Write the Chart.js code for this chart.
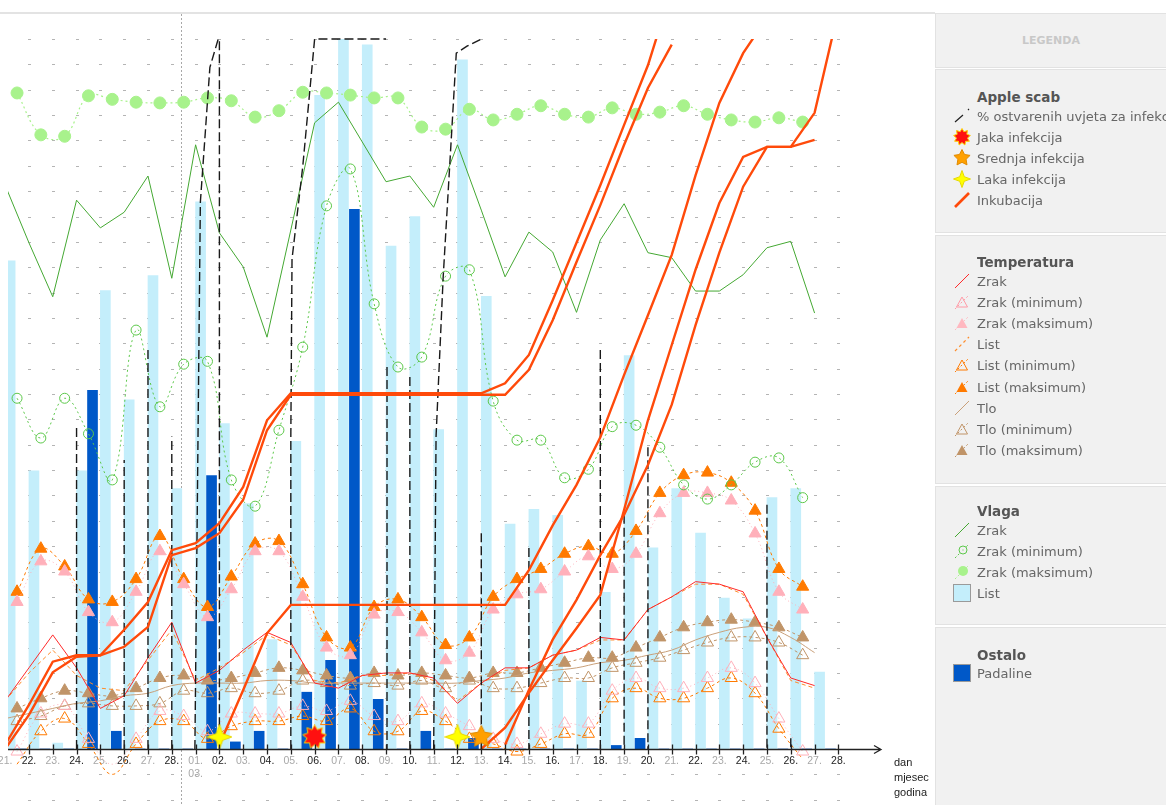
<!DOCTYPE html>
<html>
<head>
<meta charset="utf-8">
<script src="https://cdn.jsdelivr.net/npm/chart.js@4.4.1/dist/chart.umd.min.js"></script>
<style>
  body { margin: 0; background: #fff; font-family: "DejaVu Sans", sans-serif; }
  #wrap { position: relative; width: 1166px; height: 805px; overflow: hidden; }
  #topLine { position: absolute; left: 0; top: 12px; width: 935px; height: 2px; background: #e3e3e3; }
  #chartBox { position: absolute; left: 0; top: 14px; width: 930px; height: 791px; }
  #axisNote { position: absolute; left: 894px; top: 755px; font-size: 11px; line-height: 15px; color: #222; font-family: "Liberation Sans", sans-serif; }
  .box { position: absolute; left: 935px; width: 240px; background: #f1f1f1; border: 1px solid #e2e2e2; box-sizing: border-box; overflow: hidden; white-space: nowrap; }
  .head { text-align: center; color: #c8c8c8; font-size: 11px; font-weight: bold; line-height: 53px; padding-right: 8px; }
  .title { position: absolute; left: 41px; font-size: 13.5px; font-weight: bold; color: #555; line-height: 18px; }
  .row { position: absolute; left: 17px; height: 20px; display: flex; align-items: center; font-size: 13px; color: #666; }
  .row canvas { margin-right: 6px; }
</style>
</head>
<body>
<div id="wrap">
  <div id="topLine"></div>
  <div id="chartBox"><canvas id="chart" width="930" height="791"></canvas></div>
  <div id="axisNote">dan<br>mjesec<br>godina</div>

  <div class="box head" style="top:13px;height:55px;">LEGENDA</div>

  <div class="box" style="top:69px;height:164px;">
    <div class="title" style="top:18px">Apple scab</div>
    <div class="row" style="top:36px"><canvas width="18" height="18" data-icon="skab"></canvas>% ostvarenih uvjeta za infekciju</div>
    <div class="row" style="top:57px"><canvas width="18" height="18" data-icon="jaka"></canvas>Jaka infekcija</div>
    <div class="row" style="top:78px"><canvas width="18" height="18" data-icon="srednja"></canvas>Srednja infekcija</div>
    <div class="row" style="top:99px"><canvas width="18" height="18" data-icon="laka"></canvas>Laka infekcija</div>
    <div class="row" style="top:120px"><canvas width="18" height="18" data-icon="ink"></canvas>Inkubacija</div>
  </div>

  <div class="box" style="top:235px;height:249px;">
    <div class="title" style="top:17px">Temperatura</div>
    <div class="row" style="top:35px"><canvas width="18" height="18" data-icon="linija:#ff2a2a"></canvas>Zrak</div>
    <div class="row" style="top:56px"><canvas width="18" height="18" data-icon="trokutPrazan:#ff9aa6"></canvas>Zrak (minimum)</div>
    <div class="row" style="top:77px"><canvas width="18" height="18" data-icon="trokutPun:#ffb8c0"></canvas>Zrak (maksimum)</div>
    <div class="row" style="top:98px"><canvas width="18" height="18" data-icon="crtkano:#ff8c2a"></canvas>List</div>
    <div class="row" style="top:119px"><canvas width="18" height="18" data-icon="trokutPrazan:#ff7a00"></canvas>List (minimum)</div>
    <div class="row" style="top:141px"><canvas width="18" height="18" data-icon="trokutPun:#ff7a00"></canvas>List (maksimum)</div>
    <div class="row" style="top:162px"><canvas width="18" height="18" data-icon="linija:#c9a07a"></canvas>Tlo</div>
    <div class="row" style="top:183px"><canvas width="18" height="18" data-icon="trokutPrazan:#c09468"></canvas>Tlo (minimum)</div>
    <div class="row" style="top:204px"><canvas width="18" height="18" data-icon="trokutPun:#c09468"></canvas>Tlo (maksimum)</div>
  </div>

  <div class="box" style="top:486px;height:139px;">
    <div class="title" style="top:15px">Vlaga</div>
    <div class="row" style="top:33px"><canvas width="18" height="18" data-icon="linija:#44a832"></canvas>Zrak</div>
    <div class="row" style="top:54px"><canvas width="18" height="18" data-icon="krugPrazan:#5cc84a"></canvas>Zrak (minimum)</div>
    <div class="row" style="top:75px"><canvas width="18" height="18" data-icon="krugPun:#a8f28c"></canvas>Zrak (maksimum)</div>
    <div class="row" style="top:96px"><canvas width="18" height="18" data-icon="kvadrat:#c4eefb"></canvas>List</div>
  </div>

  <div class="box" style="top:627px;height:180px;">
    <div class="title" style="top:18px">Ostalo</div>
    <div class="row" style="top:35px"><canvas width="18" height="18" data-icon="kvadrat:#0058c8"></canvas>Padaline</div>
  </div>
</div>

<script>
// days from 21.02. to 28.03.
const days = ['21.', '22.', '23.', '24.', '25.', '26.', '27.', '28.', '01.', '02.', '03.', '04.', '05.', '06.', '07.', '08.', '09.', '10.', '11.', '12.', '13.', '14.', '15.', '16.', '17.', '18.', '19.', '20.', '21.', '22.', '23.', '24.', '25.', '26.', '27.', '28.'];
const firstOfMonth = 8;
const monthLabel = '03.';
const todayMark = 7.4;

// vlaga (%), daily values at day start, min / max at midday
const humidityAir = [79.4, 71.3, 63.7, 77.3, 73.4, 75.6, 80.7, 66.3, 85.1, 72.7, 67.9, 58.0, 73.1, 88.2, 91.1, 85.5, 79.9, 80.7, 76.3, 85.1, 75.9, 66.5, 72.8, 70.0, 61.5, 71.7, 76.8, 69.9, 69.2, 64.5, 64.5, 66.8, 70.6, 71.5, 61.4];
const humidityMax = [92.4, 86.5, 86.3, 92.0, 91.5, 91.1, 91.0, 91.1, 91.7, 91.3, 89.0, 89.9, 92.5, 92.4, 92.1, 91.7, 91.7, 87.6, 87.3, 90.1, 88.6, 89.4, 90.6, 89.4, 89.0, 90.3, 89.4, 89.7, 90.6, 89.4, 88.6, 88.3, 88.9, 88.3];
const humidityMin = [49.4, 43.8, 49.4, 44.4, 37.9, 59.0, 48.2, 54.2, 54.6, 37.9, 34.2, 44.9, 56.6, 76.5, 81.7, 62.7, 53.8, 55.2, 66.6, 67.5, 49.0, 43.5, 43.5, 38.2, 39.4, 45.4, 45.6, 42.5, 37.2, 35.2, 37.2, 40.4, 41.0, 35.4];

// vlaženje lista (h) and padaline (mm) per day
const leafWetness = [16.5, 9.4, 0.2, 9.4, 15.5, 11.8, 16.0, 8.8, 18.5, 11.0, 8.3, 3.7, 10.4, 22.1, 24.0, 23.8, 17.0, 18.0, 10.8, 23.3, 15.3, 7.6, 8.1, 7.9, 2.3, 5.3, 13.3, 6.8, 8.8, 7.3, 5.1, 4.4, 8.5, 8.8, 2.6];
const rain = [0, 0, 0, 10.1, 0.5, 0, 0, 0, 7.7, 0.2, 0.5, 0, 1.6, 2.5, 15.2, 1.4, 0, 0.5, 0, 0.3, 0, 0, 0, 0, 0, 0.1, 0.3, 0, 0, 0, 0, 0, 0, 0, 0];

// temperatura (°C)
const tempAir = [-0.1, 1.2, 2.5, 1.2, -0.4, 0.1, 1.6, 3.0, 0.6, 1.1, 1.9, 2.6, 2.2, 0.6, 0.4, 0.9, 1.0, 1.0, 0.8, -0.2, 0.6, 1.2, 1.2, 1.7, 1.9, 2.4, 2.3, 3.5, 4.0, 4.6, 4.5, 4.2, 2.4, 0.8, 0.5];
const tempAirMax = [3.8, 5.4, 5.0, 3.4, 3.0, 4.2, 5.8, 4.5, 3.2, 4.3, 5.8, 5.8, 4.0, 2.0, 1.7, 3.3, 3.4, 2.6, 1.5, 1.8, 3.5, 4.1, 4.3, 5.0, 5.6, 5.1, 5.7, 7.3, 8.1, 8.1, 7.8, 6.5, 4.2, 3.5];
const tempAirMin = [-2.1, -0.6, -0.3, -1.6, -2.6, -1.6, -0.5, -0.7, -1.3, -0.6, -0.6, -0.6, -0.3, -0.5, -0.1, -0.7, -0.9, -0.2, -0.6, -1.1, -1.6, -1.8, -1.4, -1.0, -1.0, 0.3, 0.8, 0.4, 0.4, 0.8, 1.2, 0.6, -0.8, -2.1];
const tempLeaf = [-0.1, 1.0, 1.9, 0.9, 0.4, 0.3, 1.5, 2.7, 0.7, 1.2, 1.8, 2.5, 2.1, 0.7, 0.6, 0.9, 0.9, 1.0, 0.7, -0.1, 0.6, 1.1, 1.2, 1.7, 1.9, 2.3, 2.3, 3.5, 4.0, 4.5, 4.5, 4.1, 2.4, 0.7, 0.4];
const tempLeafMax = [4.2, 5.9, 5.2, 3.9, 3.8, 4.7, 6.4, 4.7, 3.6, 4.8, 6.1, 6.2, 4.5, 2.4, 2.0, 3.6, 3.9, 3.2, 2.1, 2.4, 4.0, 4.7, 5.1, 5.7, 6.0, 5.7, 6.6, 8.1, 8.8, 8.9, 8.5, 7.4, 5.1, 4.4];
const tempLeafMin = [-2.6, -1.3, -0.8, -1.8, -3.0, -1.8, -0.9, -0.9, -1.6, -1.1, -0.9, -0.9, -0.7, -0.9, -0.4, -1.3, -1.3, -0.5, -0.9, -1.6, -1.8, -2.1, -1.8, -1.4, -1.4, 0.0, 0.4, 0.0, 0.0, 0.4, 0.8, 0.2, -1.2, -2.4];
const tempSoil = [-0.8, -0.6, -0.4, -0.2, -0.1, 0.1, 0.2, 0.5, 0.6, 0.6, 0.6, 0.7, 0.7, 0.6, 0.6, 0.6, 0.6, 0.6, 0.6, 0.6, 0.7, 0.8, 1.0, 1.1, 1.2, 1.4, 1.5, 1.7, 1.9, 2.3, 2.6, 2.8, 2.8, 2.4, 1.8];
const tempSoilMax = [-0.4, 0.0, 0.3, 0.2, 0.1, 0.4, 0.8, 0.9, 0.7, 0.8, 1.0, 1.2, 1.1, 0.9, 0.8, 1.0, 0.9, 1.0, 0.9, 0.8, 1.0, 1.0, 1.2, 1.4, 1.6, 1.6, 2.0, 2.4, 2.8, 3.0, 3.1, 3.0, 2.8, 2.4];
const tempSoilMin = [-0.9, -0.7, -0.3, -0.2, -0.3, -0.3, -0.2, 0.3, 0.2, 0.4, 0.2, 0.3, 0.7, 0.6, 0.5, 0.6, 0.5, 0.7, 0.4, 0.7, 0.4, 0.4, 0.6, 0.8, 0.8, 1.2, 1.4, 1.6, 1.9, 2.2, 2.4, 2.4, 2.2, 1.7];

// apple scab: % of infection conditions met (time in days from 21.02.)
const scabTime = [3, 3, 3, 5, 5, 5, 6, 6, 6, 7, 7, 7, 7.97, 8.2, 8.6, 8.95, 9, 9, 9, 12, 12, 12.05, 12.5, 13, 16, 16, 16.04, 16.04, 16.04, 17, 17, 17, 18, 18.1, 18.4, 18.95, 19.4, 20, 20, 20, 20, 20, 22, 22, 22, 25, 25, 25, 26, 26, 26, 27, 27, 27, 32, 32, 32, 33, 33];
const scabPercent = [0, 45.2, null, 0, 40.7, null, 0, 56.2, null, 0, 44, null, 0, 77, 96, 100, 100, 0, null, 0, 44, 69, 82, 100, 100, null, 53.8, 0, null, 52.4, 0, null, 0, 44, 66.5, 98, 99, 100, null, 30.4, 0, null, 28.3, 0, null, 56.2, 0, null, 33, 0, null, 42.5, 0, null, 34.4, 0, null, 1.5, 0];

// infections (day index)
const severeDays = [13];
const mediumDays = [20];
const lightDays = [9, 19];
const markerLevel = 1.7;

// incubation progress (%), first value at the given day index
const incubation1Start = 0;
const incubation1 = [0.6, 6.2, 12.3, 13.2, 13.2, 16.8, 20.7, 28.0, 29.0, 31.8, 36.9, 46.3, 50.1, 50.1, 50.1, 50.1, 50.1, 50.1, 50.1, 50.1, 50.1, 51.5, 55.5, 63.2, 71.3, 79.4, 87.9, 96.3, 107];
const incubation2Start = 0;
const incubation2 = [0, 4.8, 10.8, 13.0, 13.2, 14.4, 17.2, 27.3, 28.3, 30.4, 35.1, 44.9, 49.9, 49.9, 49.9, 49.9, 49.9, 49.9, 49.9, 49.9, 49.9, 49.9, 53.4, 60.4, 68.6, 76.6, 85.1, 93.1, 99.2];
const incubation3Start = 9;
const incubation3 = [0.6, 8.3, 16.3, 20.3, 20.3, 20.3, 20.3, 20.3, 20.3, 20.3, 20.3, 20.3, 20.3, 25.2, 31.5, 37.2, 43.9, 52.7, 61.1, 69.6, 80.8, 91.0, 98.0, 103];
const incubation4Start = 20;
const incubation4 = [0, 3.0, 7.9, 12.5, 17.0, 21.7, 33.7, 46.3, 56.9, 67.5, 76.9, 83.4, 84.8, 84.8, 89.6, 104];
const incubation5Start = 21;
const incubation5 = [0.6, 8.3, 15.4, 21.0, 27.3, 33.0, 40.0, 48.5, 59.7, 69.9, 79.2, 84.8, 84.8, 85.8];

const COLORS = {
  leafBar: '#c4eefb',
  rainBar: '#0058c8',
  humidity: '#44a832',
  humidityMax: '#a8f28c',
  humidityMin: '#5cc84a',
  air: '#ff2a2a',
  airMarks: '#ffb0ba',
  leaf: '#ff8c2a',
  leafMarks: '#ff7a00',
  soil: '#c9a07a',
  soilMarks: '#c09468',
  scab: '#1a1a1a',
  incubation: '#ff4a0a',
};

const atTick = (values, start = 0) => values.map((v, i) => ({ x: start + i, y: v }));
const atMidday = (values) => values.map((v, i) => ({ x: i + 0.5, y: v }));
const onDays = (list) => list.map((d) => ({ x: d, y: markerLevel }));

function star(g, cx, cy, points, outer, inner, fill, stroke) {
  g.beginPath();
  for (let k = 0; k < points * 2; k++) {
    const r = k % 2 ? inner : outer;
    const a = -Math.PI / 2 + (k * Math.PI) / points;
    g.lineTo(cx + r * Math.cos(a), cy + r * Math.sin(a));
  }
  g.closePath();
  g.fillStyle = fill;
  g.fill();
  if (stroke) {
    g.strokeStyle = stroke;
    g.lineWidth = 1;
    g.stroke();
  }
}

function drawInfection(g, kind, size) {
  const s = size / 2;
  if (kind === 'jaka') star(g, s, s, 9, s - 0.5, s * 0.62, '#ff1010', '#ffd000');
  if (kind === 'srednja') star(g, s, s, 5, s - 0.5, s * 0.48, '#ffa000', '#e08a00');
  if (kind === 'laka') star(g, s, s, 4, s - 0.5, s * 0.36, '#ffff00', '#e6d800');
}

function infectionImage(kind, size) {
  const c = document.createElement('canvas');
  c.width = c.height = size;
  drawInfection(c.getContext('2d'), kind, size);
  return c;
}

function lineDataset(label, data, color, extra) {
  return Object.assign({
    type: 'line',
    label,
    data,
    borderColor: color,
    backgroundColor: color,
    borderWidth: 1,
    pointRadius: 0,
    tension: 0,
    yAxisID: 'yTemp',
    order: 4,
  }, extra);
}

function markDataset(label, values, color, filled, style, extra) {
  return lineDataset(label, atMidday(values), color, Object.assign({
    borderDash: [2, 3],
    tension: 0.4,
    pointStyle: style,
    pointRadius: 6,
    pointBorderWidth: 1,
    pointBorderColor: color,
    pointBackgroundColor: filled ? color : 'rgba(255,255,255,0)',
    clip: false,
    order: 5,
  }, extra));
}

function infectionDataset(label, list, kind, size) {
  return lineDataset(label, onDays(list), '#ff1010', {
    showLine: false,
    pointStyle: infectionImage(kind, size),
    pointRadius: 10,
    yAxisID: 'yPct',
    clip: false,
    order: 1,
  });
}

function incubationDataset(values, start) {
  return lineDataset('Inkubacija', atTick(values, start), COLORS.incubation, {
    borderWidth: 2.4,
    yAxisID: 'yPct',
    order: 2,
  });
}

const background = {
  id: 'background',
  beforeDatasetsDraw(chart) {
    const { ctx, scales: { x, yTemp } } = chart;
    ctx.save();
    ctx.fillStyle = '#b4b4b4';
    for (let t = -4; t <= 26; t++) {
      if (t === -2) continue;
      const py = Math.round(yTemp.getPixelForValue(t));
      for (let i = 1; i < days.length; i++) {
        ctx.fillRect(Math.round(x.getPixelForValue(i)) - 1, py, 3, 1);
      }
    }
    const vx = Math.round(x.getPixelForValue(todayMark)) + 0.5;
    ctx.strokeStyle = '#a8a8a8';
    ctx.lineWidth = 1;
    ctx.setLineDash([2, 2]);
    ctx.beginPath();
    ctx.moveTo(vx, 0);
    ctx.lineTo(vx, chart.height);
    ctx.stroke();
    ctx.restore();
  },
  afterDatasetsDraw(chart) {
    const { ctx, scales: { x }, chartArea } = chart;
    const y = Math.round(chartArea.bottom) + 0.5;
    ctx.save();
    ctx.strokeStyle = '#222';
    ctx.lineWidth = 1.3;
    ctx.beginPath();
    ctx.moveTo(chartArea.left, y);
    ctx.lineTo(chartArea.right, y);
    ctx.moveTo(chartArea.right - 7, y - 4);
    ctx.lineTo(chartArea.right, y);
    ctx.lineTo(chartArea.right - 7, y + 4);
    for (let i = 1; i < days.length; i++) {
      const px = Math.round(x.getPixelForValue(i)) + 0.5;
      ctx.moveTo(px, y - 5);
      ctx.lineTo(px, y + 5);
    }
    ctx.stroke();
    ctx.restore();
  },
};

new Chart(document.getElementById('chart'), {
  type: 'bar',
  data: {
    datasets: [
      {
        label: 'List',
        data: leafWetness.map((v, i) => ({ x: i + 0.21, y: v })),
        backgroundColor: COLORS.leafBar,
        barThickness: 10,
        grouped: false,
        yAxisID: 'yWet',
        order: 20,
      },
      {
        label: 'Padaline',
        data: rain.map((v, i) => ({ x: i + 0.67, y: v })),
        backgroundColor: COLORS.rainBar,
        barThickness: 10,
        grouped: false,
        yAxisID: 'yRain',
        order: 19,
      },
      lineDataset('Vlaga zrak', atTick(humidityAir), COLORS.humidity, { yAxisID: 'yPct' }),
      markDataset('Vlaga zrak (maksimum)', humidityMax, COLORS.humidityMax, true, 'circle', { yAxisID: 'yPct', borderWidth: 1.2 }),
      markDataset('Vlaga zrak (minimum)', humidityMin, COLORS.humidityMin, false, 'circle', { yAxisID: 'yPct', pointRadius: 5 }),
      lineDataset('Temperatura zrak', atTick(tempAir), COLORS.air),
      markDataset('Zrak (maksimum)', tempAirMax, COLORS.airMarks, true, 'triangle', { pointRadius: 7, borderDash: [1, 3] }),
      markDataset('Zrak (minimum)', tempAirMin, COLORS.airMarks, false, 'triangle', { pointRadius: 7, borderDash: [1, 3] }),
      lineDataset('List', atTick(tempLeaf), COLORS.leaf, { borderDash: [4, 3] }),
      markDataset('List (maksimum)', tempLeafMax, COLORS.leafMarks, true, 'triangle', { pointRadius: 7, borderDash: [3, 3] }),
      markDataset('List (minimum)', tempLeafMin, COLORS.leafMarks, false, 'triangle', { pointRadius: 7, borderDash: [3, 3] }),
      lineDataset('Tlo', atTick(tempSoil), COLORS.soil, { tension: 0.4 }),
      markDataset('Tlo (maksimum)', tempSoilMax, COLORS.soilMarks, true, 'triangle', { pointRadius: 7, borderDash: [3, 3] }),
      markDataset('Tlo (minimum)', tempSoilMin, COLORS.soilMarks, false, 'triangle', { pointRadius: 7, borderDash: [3, 3] }),
      lineDataset('% ostvarenih uvjeta za infekciju', scabTime.map((t, i) => ({ x: t, y: scabPercent[i] })), COLORS.scab, {
        borderWidth: 1.4,
        borderDash: [9, 4],
        yAxisID: 'yPct',
        clip: 3,
        order: 3,
      }),
      incubationDataset(incubation1, incubation1Start),
      incubationDataset(incubation2, incubation2Start),
      incubationDataset(incubation3, incubation3Start),
      incubationDataset(incubation4, incubation4Start),
      incubationDataset(incubation5, incubation5Start),
      infectionDataset('Jaka infekcija', severeDays, 'jaka', 25),
      infectionDataset('Srednja infekcija', mediumDays, 'srednja', 24),
      infectionDataset('Laka infekcija', lightDays, 'laka', 26),
    ],
  },
  options: {
    responsive: false,
    devicePixelRatio: 1,
    animation: false,
    events: [],
    layout: { autoPadding: false, padding: { left: 8, right: 49, top: 25, bottom: 26 } },
    plugins: { legend: { display: false }, tooltip: { enabled: false } },
    scales: {
      x: {
        type: 'linear',
        offset: false,
        min: 0.12,
        max: 36.79,
        grid: { display: false, drawTicks: false, offset: false },
        border: { display: false },
        afterBuildTicks: (scale) => { scale.ticks = days.map((_, i) => ({ value: i })); },
        afterFit: (scale) => { scale.height = 30; scale.paddingLeft = 0; scale.paddingRight = 0; },
        ticks: {
          autoSkip: false,
          maxRotation: 0,
          padding: 6,
          font: { family: 'Liberation Sans', size: 10.5 },
          color: (c) => (c.index % 2 ? '#222' : '#a8a8a8'),
          callback: (value, index) => (index === firstOfMonth ? [days[index], monthLabel] : days[index]),
        },
      },
      yTemp: { display: false, min: -2, max: 26 },
      yPct: { display: false, min: 0, max: 100 },
      yWet: { display: false, min: 0, max: 24 },
      yRain: { display: false, min: 0, max: 20 },
    },
  },
  plugins: [background],
});

// legend icons
function drawIcon(canvas) {
  const [kind, color] = canvas.dataset.icon.split(':');
  const g = canvas.getContext('2d');
  const diag = (dash, width, c) => {
    g.save();
    g.strokeStyle = c;
    g.lineWidth = width;
    g.setLineDash(dash);
    g.beginPath();
    g.moveTo(2, 16);
    g.lineTo(16, 2);
    g.stroke();
    g.restore();
  };
  if (kind === 'skab') {
    g.strokeStyle = '#222';
    g.lineWidth = 1.2;
    g.beginPath();
    g.moveTo(2, 15);
    g.lineTo(10, 8);
    g.moveTo(15, 3);
    g.lineTo(16, 2);
    g.stroke();
  } else if (kind === 'jaka' || kind === 'srednja' || kind === 'laka') {
    drawInfection(g, kind, 18);
  } else if (kind === 'ink') {
    diag([], 2.6, COLORS.incubation);
  } else if (kind === 'linija') {
    diag([], 1, color);
  } else if (kind === 'crtkano') {
    diag([3, 3], 1.2, color);
  } else if (kind === 'trokutPrazan' || kind === 'trokutPun') {
    diag([2, 2], 1, color);
    g.beginPath();
    g.moveTo(9, 4);
    g.lineTo(14.5, 14);
    g.lineTo(3.5, 14);
    g.closePath();
    if (kind === 'trokutPun') {
      g.fillStyle = color;
      g.fill();
    } else {
      g.strokeStyle = color;
      g.stroke();
    }
  } else if (kind === 'krugPrazan' || kind === 'krugPun') {
    diag([2, 2], 1, color);
    g.beginPath();
    g.arc(10, 8, kind === 'krugPun' ? 5 : 4, 0, Math.PI * 2);
    if (kind === 'krugPun') {
      g.fillStyle = color;
      g.fill();
    } else {
      g.fillStyle = '#f1f1f1';
      g.fill();
      g.strokeStyle = color;
      g.stroke();
      g.fillStyle = color;
      g.fillRect(9.5, 7.5, 1, 1);
    }
  } else if (kind === 'kvadrat') {
    g.fillStyle = color;
    g.fillRect(1, 1, 16, 16);
    g.strokeStyle = '#9a9a9a';
    g.strokeRect(0.5, 0.5, 17, 17);
  }
}

document.querySelectorAll('canvas[data-icon]').forEach(drawIcon);
</script>
</body>
</html>
